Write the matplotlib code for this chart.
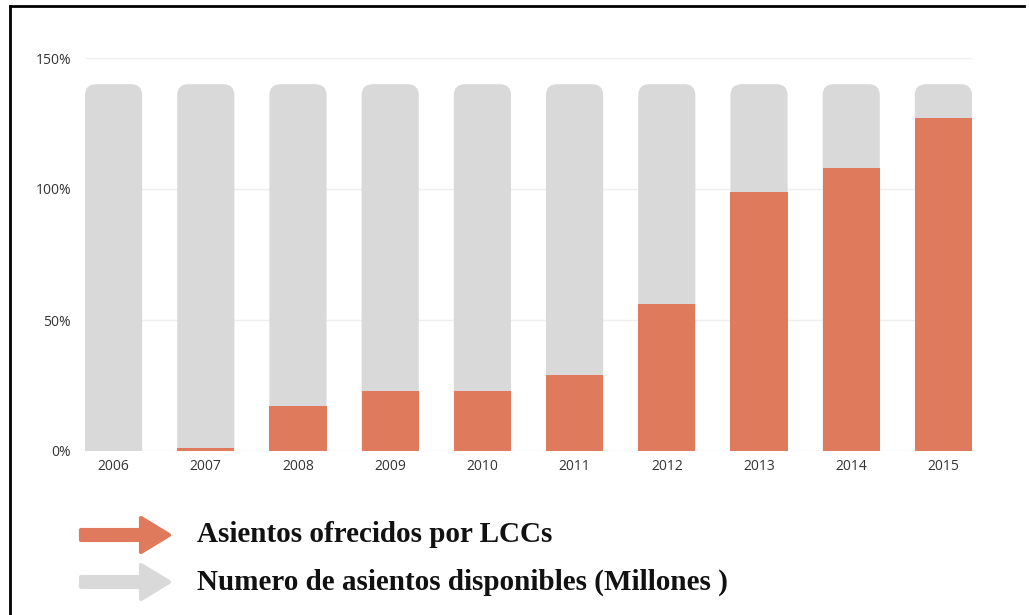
import matplotlib.pyplot as plt
import numpy as np
from matplotlib.patches import FancyBboxPatch, FancyArrow
from matplotlib.lines import Line2D

# data
years = ['2006', '2007', '2008', '2009', '2010', '2011', '2012', '2013', '2014', '2015']
total_seats = [140, 140, 140, 140, 140, 140, 140, 140, 140, 140]
lcc_seats = [0, 1, 17, 23, 23, 29, 56, 99, 108, 127]
yticks = [0, 50, 100, 150]
legend_labels = ['Asientos ofrecidos por LCCs', 'Numero de asientos disponibles (Millones )']

orange = '#E07A5C'
grey = '#D9D9D9'

W, H = 1029, 615
fig = plt.figure(figsize=(W / 100, H / 100), dpi=100)
fig.patch.set_facecolor('white')

ax = fig.add_axes([85 / W, 1 - 451 / H, (972 - 85) / W, (451 - 58) / H])
x = np.arange(len(years))
bw = 0.62
ax.set_xlim(-bw / 2, len(years) - 1 + bw / 2)
ax.set_ylim(0, 150)

# aspect between data units for rounded corners
px_x = ax.get_position().width * W / (ax.get_xlim()[1] - ax.get_xlim()[0])
px_y = ax.get_position().height * H / 150
aspect = px_x / px_y

for xi, t in zip(x, total_seats):
    p = FancyBboxPatch((xi - bw / 2, -20), bw, t + 20,
                       boxstyle='round,pad=0,rounding_size=0.12',
                       mutation_aspect=aspect, fc=grey, ec='none', zorder=2)
    ax.add_patch(p)

ax.bar(x, lcc_seats, width=bw, color=orange, zorder=3)

for yt in yticks:
    ax.axhline(yt, color='#EFEFEF', lw=1, zorder=1)

ax.set_yticks(yticks)
ax.set_yticklabels([f'{v}%' for v in yticks])
ax.set_xticks(x)
ax.set_xticklabels(years)
ax.tick_params(length=0, labelsize=10, colors='#333333', labelfontfamily='Open Sans')
ax.tick_params(axis='y', pad=10)
ax.tick_params(axis='x', pad=6)
for s in ax.spines.values():
    s.set_visible(False)

# legend with arrows
arrow_cols = [orange, grey]
arrow_y = [535, 582]
for col, yy, lab in zip(arrow_cols, arrow_y, legend_labels):
    yf = 1 - yy / H
    arr = FancyArrow(81 / W, yf, 88 / W, 0, width=10 / H, head_width=34 / H,
                     head_length=28 / W, length_includes_head=True,
                     transform=fig.transFigure, color=col, ec=col,
                     joinstyle='round', capstyle='round', lw=3)
    fig.patches.append(arr)
    fig.text(197 / W, yf, lab, fontsize=21, fontweight='bold',
             family='Liberation Serif', va='center', ha='left', color='#111111')

# frame
fig.add_artist(Line2D([10 / W, 10 / W], [0, 1 - 6 / H], color='black', lw=2,
                      transform=fig.transFigure))
fig.add_artist(Line2D([10 / W, 1024 / W], [1 - 6 / H, 1 - 6 / H], color='black', lw=2,
                      transform=fig.transFigure))

fig.savefig('out.png', dpi=100)
